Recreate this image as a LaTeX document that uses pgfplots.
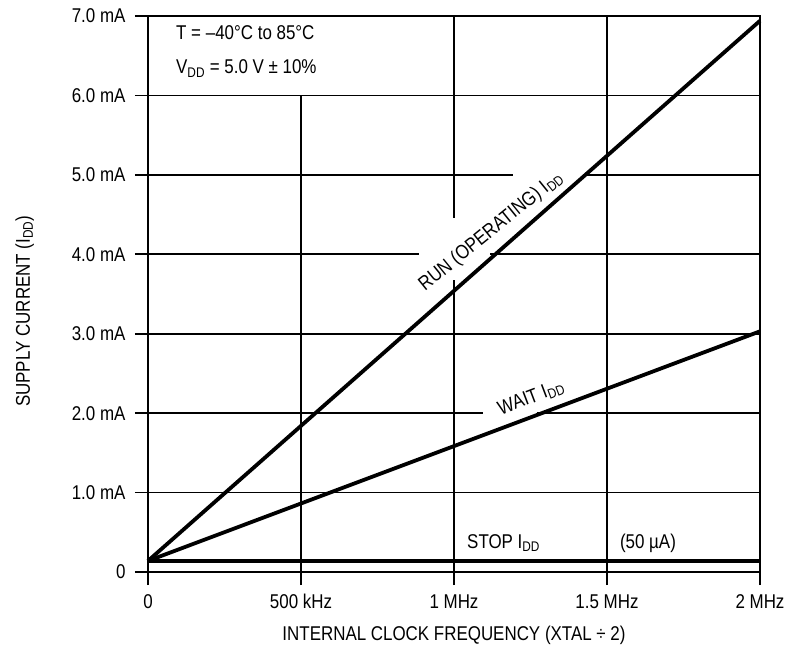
\documentclass[border=0pt]{standalone}
\usepackage{pgfplots}
\pgfplotsset{compat=1.18}
\usepackage{fontspec}
\setmainfont{Liberation Sans}[FakeStretch=0.85]
\begin{document}
\begin{tikzpicture}[font=\fontsize{20}{24}\selectfont]
\useasboundingbox (-148bp,-80bp) rectangle (638bp,572bp);
\begin{axis}[
  at={(0,0)}, anchor=south west,
  scale only axis, width=612bp, height=556bp,
  xmin=0, xmax=2, ymin=0, ymax=7,
  clip=false,
  xtick={0,0.5,1,1.5,2},
  xticklabels={0,500 kHz,1 MHz,1.5 MHz,2 MHz},
  ytick={0,1,2,3,4,5,6,7},
  yticklabels={0,1.0 mA,2.0 mA,3.0 mA,4.0 mA,5.0 mA,6.0 mA,7.0 mA},
  tick align=outside, tick pos=left,
  major tick length=13bp,
  axis line style={line width=1.6bp},
  every tick/.style={black, line width=1.6bp},
  ticklabel style={font=\fontsize{20}{24}\selectfont},
  yticklabel style={xshift=-6bp},
  xticklabel style={yshift=-6bp},
  xlabel={INTERNAL CLOCK FREQUENCY (XTAL ÷ 2)},
  ylabel={SUPPLY CURRENT (I\textsubscript{DD})},
  every axis x label/.style={at={(axis description cs:0.5,-0.1223)}, anchor=base},
  every axis y label/.style={at={(axis description cs:-0.193,0.469)}, rotate=90, anchor=base},
]
% grid with gaps
\draw[line width=1.6bp] (axis cs:0,1) -- (axis cs:2,1);
\draw[line width=1.6bp] (axis cs:0,2) -- (axis cs:1.095,2);
\draw[line width=1.6bp] (axis cs:1.27,2) -- (axis cs:2,2);
\draw[line width=1.6bp] (axis cs:0,3) -- (axis cs:2,3);
\draw[line width=1.6bp] (axis cs:0,4) -- (axis cs:0.886,4);
\draw[line width=1.6bp] (axis cs:1.118,4) -- (axis cs:2,4);
\draw[line width=1.6bp] (axis cs:0,5) -- (axis cs:1.193,5);
\draw[line width=1.6bp] (axis cs:1.425,5) -- (axis cs:2,5);
\draw[line width=1.6bp] (axis cs:0,6) -- (axis cs:2,6);
\draw[line width=1.6bp] (axis cs:0.5,0) -- (axis cs:0.5,6);
\draw[line width=1.6bp] (axis cs:1,0) -- (axis cs:1,3.676);
\draw[line width=1.6bp] (axis cs:1,4.457) -- (axis cs:1,7);
\draw[line width=1.6bp] (axis cs:1.5,0) -- (axis cs:1.5,7);
% data
\addplot[line width=3.8bp, black] coordinates {(0,0.14) (2,6.94)};
\addplot[line width=3.8bp, black] coordinates {(0,0.14) (2,3.03)};
\addplot[line width=3.8bp, black] coordinates {(0,0.14) (2,0.14)};
% annotations
\node[anchor=base west, inner sep=0] at (axis cs:0.0915,6.70) {T = –40°C to 85°C};
\node[anchor=base west, inner sep=0] at (axis cs:0.0915,6.27) {V\textsubscript{DD} = 5.0 V ± 10\%};
\node[rotate=39, inner sep=0] at (axis cs:1.121,4.287) {RUN (OPERATING) I\textsubscript{DD}};
\node[rotate=20.8, inner sep=0] at (axis cs:1.252,2.19) {WAIT I\textsubscript{DD}};
\node[anchor=base west, inner sep=0] at (axis cs:1.0425,0.302) {STOP I\textsubscript{DD}};
\node[anchor=base west, inner sep=0] at (axis cs:1.542,0.302) {(50 µA)};
\end{axis}
\end{tikzpicture}
\end{document}
